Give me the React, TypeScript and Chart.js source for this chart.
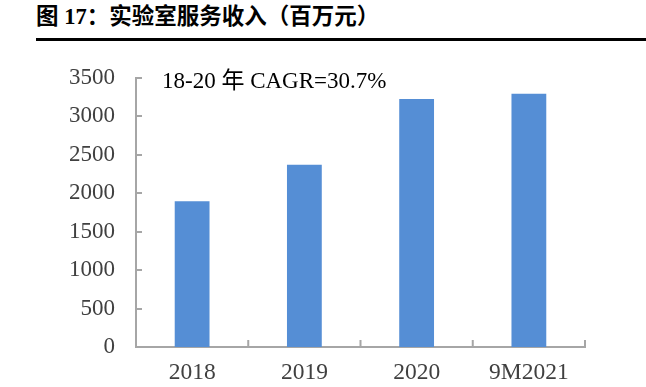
import React, { useEffect, useRef } from "react";
import { Chart, registerables } from "chart.js";

Chart.register(...registerables);

const categories = ["2018", "2019", "2020", "9M2021"];
const revenue = [1895, 2370, 3228, 3296];
const yTicks = [0, 500, 1000, 1500, 2000, 2500, 3000, 3500];
const titleText = "图 17：实验室服务收入（百万元）";
const annotationText = "18-20 年 CAGR=30.7%";

const AXIS_COLOR = "#A6A6A6";
const LABEL_COLOR = "#404040";
const BAR_COLOR = "#558ED5";
const SERIF = "'Liberation Serif', 'Times New Roman', 'Noto Sans CJK SC', serif";

const innerTicks = {
  id: "innerTicks",
  afterDraw(chart: any) {
    const { ctx, chartArea } = chart;
    const x = chart.scales.x;
    const y = chart.scales.y;
    ctx.save();
    ctx.strokeStyle = AXIS_COLOR;
    ctx.lineWidth = 2;
    ctx.beginPath();
    yTicks.forEach((v) => {
      const py = Math.round(y.getPixelForValue(v));
      ctx.moveTo(chartArea.left, py);
      ctx.lineTo(chartArea.left + 6, py);
    });
    const n = categories.length;
    for (let i = 0; i <= n; i++) {
      const px = x.left + (i * (x.right - x.left)) / n;
      ctx.moveTo(px, chartArea.bottom);
      ctx.lineTo(px, chartArea.bottom - 7);
    }
    ctx.stroke();
    ctx.fillStyle = "#000000";
    ctx.font = `23px ${SERIF}`;
    ctx.textBaseline = "middle";
    ctx.textAlign = "left";
    ctx.fillText(annotationText, 162, 82);
    ctx.restore();
  },
};

export default function App() {
  const ref = useRef<HTMLCanvasElement | null>(null);
  useEffect(() => {
    if (!ref.current) return;
    const chart = new Chart(ref.current, {
      type: "bar",
      data: {
        labels: categories,
        datasets: [
          {
            data: revenue,
            backgroundColor: BAR_COLOR,
            borderWidth: 0,
            barPercentage: 0.31,
            categoryPercentage: 1,
          },
        ],
      },
      options: {
        animation: false,
        responsive: false,
        maintainAspectRatio: false,
        layout: { padding: { top: 78, right: 61, left: 0, bottom: 0 } },
        plugins: { legend: { display: false }, tooltip: { enabled: false }, title: { display: false } },
        scales: {
          x: {
            offset: true,
            grid: { display: false, drawTicks: false },
            border: { display: true, color: AXIS_COLOR, width: 2 },
            ticks: { color: LABEL_COLOR, font: { family: SERIF, size: 23.5 }, padding: 12, maxRotation: 0 },
            afterFit(scale: any) {
              scale.height = 40;
            },
          },
          y: {
            min: 0,
            max: 3500,
            afterBuildTicks(scale: any) {
              scale.ticks = yTicks.map((v) => ({ value: v }));
            },
            grid: { display: false, drawTicks: false },
            border: { display: true, color: AXIS_COLOR, width: 2 },
            ticks: {
              color: LABEL_COLOR,
              font: { family: SERIF, size: 23 },
              padding: 21,
              callback: (v: any) => String(v),
            },
            afterFit(scale: any) {
              scale.width = 136;
            },
          },
        },
      },
      plugins: [innerTicks],
    });
    return () => chart.destroy();
  }, []);

  return (
    <div style={{ position: "fixed", left: 0, top: 0, width: 646, height: 387, background: "#fff", overflow: "hidden" }}>
      <div
        style={{
          position: "absolute",
          left: 36,
          top: 3,
          fontFamily: "'Liberation Serif', 'Noto Sans CJK SC', serif",
          fontWeight: "bold",
          fontSize: 22.5,
          lineHeight: "28px",
          color: "#000",
          whiteSpace: "nowrap",
        }}
      >
        {titleText}
      </div>
      <div style={{ position: "absolute", left: 36, top: 38, width: 610, height: 3, background: "#000" }} />
      <canvas ref={ref} width={646} height={387} style={{ position: "absolute", left: 0, top: 0 }} />
    </div>
  );
}
